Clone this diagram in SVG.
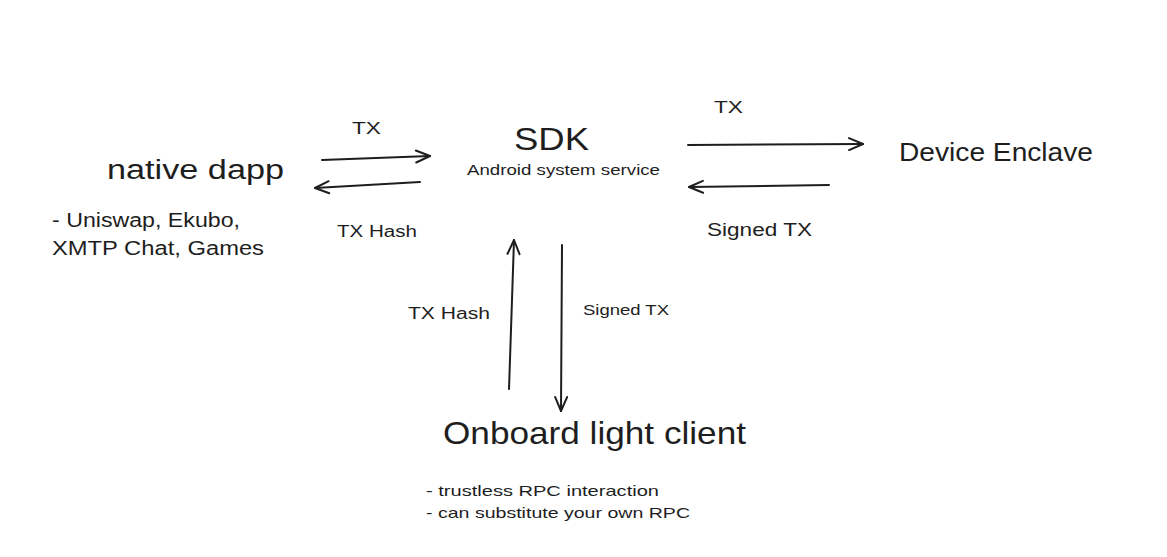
<svg xmlns="http://www.w3.org/2000/svg" width="1167" height="557" viewBox="0 0 1167 557">
<style>
text{font-family:"Liberation Sans","Noto Sans",sans-serif;fill:#1e1e1e}
.c path{fill:none;stroke:#1e1e1e;stroke-width:2;stroke-linecap:round}
</style>
<defs>
<marker id="ah" viewBox="-16 -8 18 16" refX="0" refY="0" markerWidth="18" markerHeight="16" markerUnits="userSpaceOnUse" orient="auto">
<path d="M-14,-6 L0,0 L-14,6" fill="none" stroke="#1e1e1e" stroke-width="2" stroke-linecap="round" stroke-linejoin="round"/>
</marker>
</defs>
<rect width="1167" height="557" fill="#ffffff"/>
<g id="native-dapp">
<text x="107" y="179" font-size="27" textLength="177" lengthAdjust="spacingAndGlyphs">native dapp</text>
<text x="52" y="227" font-size="20" textLength="188" lengthAdjust="spacingAndGlyphs">- Uniswap, Ekubo,</text>
<text x="52" y="255" font-size="20" textLength="212" lengthAdjust="spacingAndGlyphs">XMTP Chat, Games</text>
</g>
<g id="sdk">
<text x="514" y="150" font-size="32" textLength="75" lengthAdjust="spacingAndGlyphs">SDK</text>
<text x="467" y="175" font-size="14" textLength="193" lengthAdjust="spacingAndGlyphs">Android system service</text>
</g>
<g id="device-enclave">
<text x="899" y="161" font-size="26" textLength="194" lengthAdjust="spacingAndGlyphs">Device Enclave</text>
</g>
<g id="light-client">
<text x="443" y="444" font-size="32" textLength="303" lengthAdjust="spacingAndGlyphs">Onboard light client</text>
<text x="426" y="496" font-size="15" textLength="233" lengthAdjust="spacingAndGlyphs">- trustless RPC interaction</text>
<text x="426" y="518" font-size="15" textLength="264" lengthAdjust="spacingAndGlyphs">- can substitute your own RPC</text>
</g>
<g id="connectors" class="c">
<path d="M322,160 L430,156" marker-end="url(#ah)"/>
<path d="M420,182 L315,188" marker-end="url(#ah)"/>
<path d="M688,145 L863,144" marker-end="url(#ah)"/>
<path d="M829,185 L689,187" marker-end="url(#ah)"/>
<path d="M509,389 L514,240" marker-end="url(#ah)"/>
<path d="M562,245 L561,411" marker-end="url(#ah)"/>
</g>
<g id="labels">
<text x="352" y="134" font-size="16" textLength="29" lengthAdjust="spacingAndGlyphs">TX</text>
<text x="337" y="237" font-size="16" textLength="80" lengthAdjust="spacingAndGlyphs">TX Hash</text>
<text x="714" y="113" font-size="16" textLength="29" lengthAdjust="spacingAndGlyphs">TX</text>
<text x="707" y="236" font-size="18" textLength="105" lengthAdjust="spacingAndGlyphs">Signed TX</text>
<text x="408" y="319" font-size="16" textLength="82" lengthAdjust="spacingAndGlyphs">TX Hash</text>
<text x="583" y="315" font-size="15" textLength="86" lengthAdjust="spacingAndGlyphs">Signed TX</text>
</g>
</svg>
